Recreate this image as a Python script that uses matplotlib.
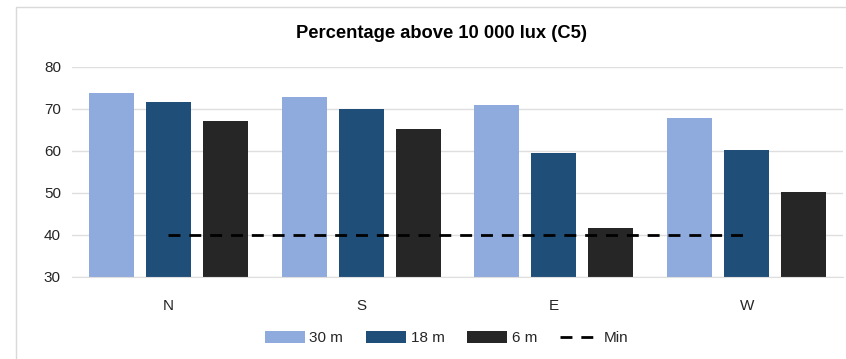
import numpy as np
import matplotlib.pyplot as plt
from matplotlib.patches import Rectangle

plt.rcParams['font.family'] = ['Liberation Sans', 'DejaVu Sans']

categories = ['N', 'S', 'E', 'W']
series_names = ['30 m', '18 m', '6 m']
values_30m = [73.9, 72.9, 70.9, 67.9]
values_18m = [71.6, 70.1, 59.6, 60.3]
values_6m = [67.2, 65.3, 41.6, 50.3]
min_level = [40, 40, 40, 40]

colors = ['#8FAADC', '#1F4E79', '#262626']
grid_col = '#DEDEDE'
text_col = '#262626'

fig = plt.figure(figsize=(8.46, 3.59), dpi=100)
# chart frame
fig.patches.append(Rectangle((16 / 846, -0.1), 1.1, 1 - 7 / 359 + 0.1,
                             transform=fig.transFigure, fill=False,
                             edgecolor='#D9D9D9', linewidth=1.0))

ax = fig.add_axes([72 / 846, 1 - 277 / 359, 771 / 846, 210 / 359])
x = np.arange(len(categories))
width = 0.234
offsets = [-0.296, 0.0, 0.296]
for vals, off, col, name in zip([values_30m, values_18m, values_6m], offsets, colors, series_names):
    ax.bar(x + off, np.array(vals) - 30, width, bottom=30, color=col, label=name, zorder=2)

ax.plot(x, min_level, color='black', linestyle=(0, (4.3, 3.2)), linewidth=2.0,
        label='Min', zorder=3)

ax.set_xlim(-0.5, 3.5)
ax.set_ylim(30, 80)
ax.set_yticks([30, 40, 50, 60, 70, 80])
ax.yaxis.grid(True, color=grid_col, linewidth=1.0, zorder=0)
ax.set_axisbelow(True)
for s in ['top', 'right', 'left']:
    ax.spines[s].set_visible(False)
ax.spines['bottom'].set_color(grid_col)
ax.set_xticks(x)
ax.set_xticklabels(categories)
ax.tick_params(axis='both', length=0, labelsize=11, colors=text_col)
ax.tick_params(axis='x', pad=16)
ax.tick_params(axis='y', pad=8)

fig.text(441 / 846, 1 - 33 / 359, 'Percentage above 10 000 lux (C5)', ha='center', va='center',
         fontsize=13.2, fontweight='bold', color='black')

handles, labels = ax.get_legend_handles_labels()
order = [1, 2, 3, 0]
fig.legend([handles[i] for i in order], [labels[i] for i in order],
           loc='center', bbox_to_anchor=(447 / 846, 1 - 338 / 359), ncol=4,
           frameon=False, fontsize=11, handlelength=2.6, handleheight=0.9,
           columnspacing=1.5, handletextpad=0.3, labelcolor=text_col)

fig.savefig('out.png', dpi=100)
